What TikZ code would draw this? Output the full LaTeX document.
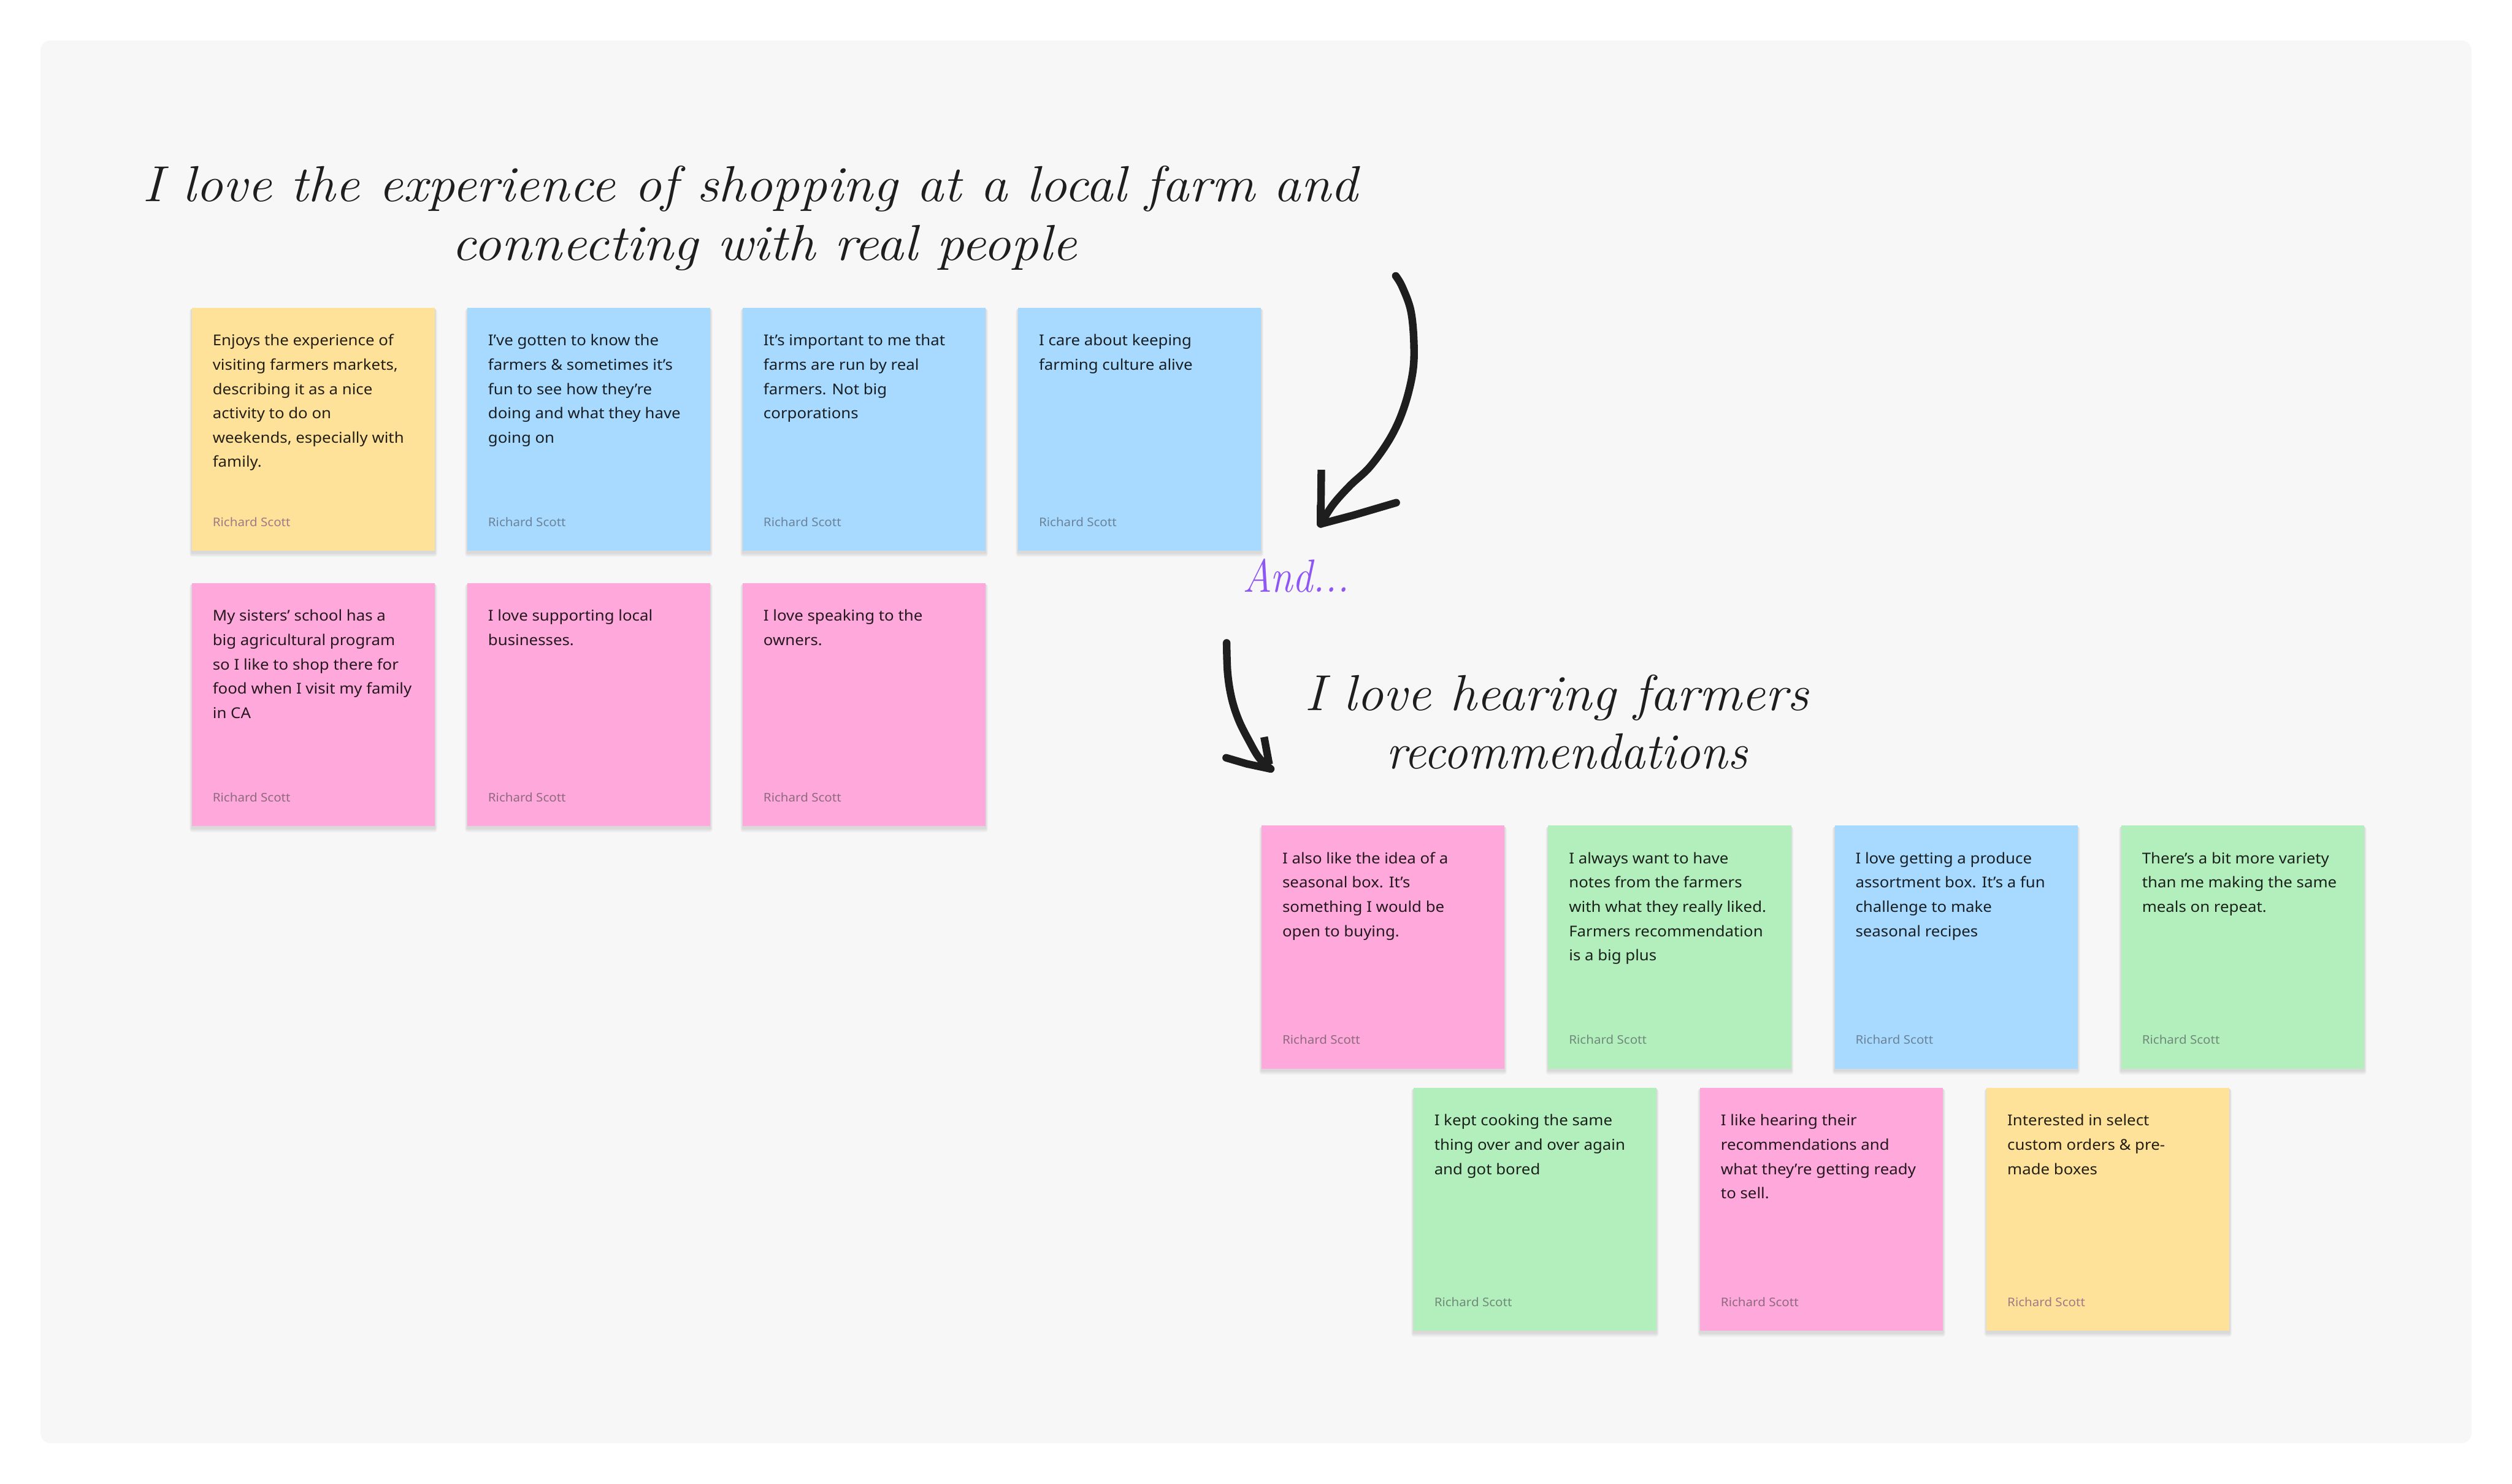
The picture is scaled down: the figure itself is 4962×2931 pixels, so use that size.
\documentclass[tikz,border=0pt]{standalone}
\usepackage{fontspec}
\usepackage{graphicx}
\setmainfont{Noto Sans}[FakeStretch=1.06]
\newfontfamily\handfont{Latin Modern Roman}
\usetikzlibrary{calc}
\definecolor{panel}{HTML}{F7F7F7}
\definecolor{stY}{HTML}{FFE299}
\definecolor{stB}{HTML}{A8DAFF}
\definecolor{stP}{HTML}{FFA8DB}
\definecolor{stG}{HTML}{B3EFBD}
\definecolor{auY}{HTML}{9D7B86}
\definecolor{auB}{HTML}{6A8398}
\definecolor{auP}{HTML}{8E6A7E}
\definecolor{auG}{HTML}{6F8A78}
\definecolor{ink}{HTML}{1E1E1E}
\definecolor{purp}{HTML}{8F56F6}
\newcommand\stxt[1]{\vtop{\fontsize{29.5}{48}\selectfont\halign{##\hfil\cr #1\crcr}}}
\newcommand\twolines[3]{\vtop{\baselineskip=#1\relax\halign{\hfil##\hfil\cr #2\cr #3\crcr}}}
\newcommand\hw[2]{\resizebox{#1}{\height}{#2}}
\newcommand\sticky[5]{%
  \foreach \k in {1,...,6}{%
    \fill[black,opacity=0.018,rounded corners=\k pt]
      (#2-\k*0.8, #3+2) rectangle (#2+480+\k*0.8, #3+484+\k*1.4);}
  \node[stickybox, fill=st#4, anchor=north west] (#1) at (#2,#3) {};
  \node[stickytext, anchor=base west] (#1-t) at ($(#1.north west)+(41,75)$) {\stxt{#5}};
  \node[stickyauthor, text=au#4, anchor=base west] (#1-a) at ($(#1.north west)+(41,432)$) {Richard Scott};
}
\begin{document}
\begin{tikzpicture}[x=1pt,y=-1pt,
  stickybox/.style={minimum width=480pt, minimum height=480pt, inner sep=0pt, outer sep=0pt, draw=none},
  stickytext/.style={inner sep=0pt, text=black, text opacity=0.86},
  stickyauthor/.style={inner sep=0pt, font=\fontsize{23.5}{26}\selectfont},
  handtitle/.style={inner sep=0pt, text=ink, font=\handfont\itshape\fontsize{100}{116}\selectfont},
  andtext/.style={inner sep=0pt, text=purp, font=\handfont\itshape\fontsize{92}{100}\selectfont},
  penline/.style={draw=ink, line width=15pt, line cap=round, line join=round}]
\useasboundingbox (0,0) rectangle (4962,2931);
\fill[white] (0,0) rectangle (4962,2931);
\fill[panel, rounded corners=20pt] (80,80) rectangle (4882,2851);

% titles
\node[handtitle, anchor=base] (title1) at (1482,398)
  {\twolines{116pt}{\hw{2400pt}{I love the experience of shopping at a local farm and}}{\hskip56pt\hw{1235pt}{connecting with real people}}};
\node[handtitle, anchor=base] (title2) at (3075,1403)
  {\twolines{116pt}{\hw{996pt}{I love hearing farmers}}{\hskip40pt\hw{713pt}{recommendations}}};
\node[andtext, anchor=base west] (and) at (2455,1170) {\hw{210pt}{And...}};

% left group
\sticky{s1}{379}{608}{Y}{Enjoys the experience of\cr visiting farmers markets,\cr describing it as a nice\cr activity to do on\cr weekends, especially with\cr family.}
\sticky{s2}{923}{608}{B}{I’ve gotten to know the\cr farmers \& sometimes it’s\cr fun to see how they’re\cr doing and what they have\cr going on}
\sticky{s3}{1467}{608}{B}{It’s important to me that\cr farms are run by real\cr farmers. Not big\cr corporations}
\sticky{s4}{2011}{608}{B}{I care about keeping\cr farming culture alive}
\sticky{s5}{379}{1152}{P}{My sisters’ school has a\cr big agricultural program\cr so I like to shop there for\cr food when I visit my family\cr in CA}
\sticky{s6}{923}{1152}{P}{I love supporting local\cr businesses.}
\sticky{s7}{1467}{1152}{P}{I love speaking to the\cr owners.}

% right group
\sticky{s8}{2492}{1631}{P}{I also like the idea of a\cr seasonal box. It’s\cr something I would be\cr open to buying.}
\sticky{s9}{3058}{1631}{G}{I always want to have\cr notes from the farmers\cr with what they really liked.\cr Farmers recommendation\cr is a big plus}
\sticky{s10}{3624}{1631}{B}{I love getting a produce\cr assortment box. It’s a fun\cr challenge to make\cr seasonal recipes}
\sticky{s11}{4190}{1631}{G}{There's a bit more variety\cr than me making the same\cr meals on repeat.}
\sticky{s12}{2792}{2149}{G}{I kept cooking the same\cr thing over and over again\cr and got bored}
\sticky{s13}{3358}{2149}{P}{I like hearing their\cr recommendations and\cr what they’re getting ready\cr to sell.}
\sticky{s14}{3924}{2149}{Y}{Interested in select\cr custom orders \& pre-\cr made boxes}

% arrow 1
\coordinate (a1s) at (2757,545);
\coordinate (a1e) at (2609,1035);
\coordinate (a1b1) at (2610,928);
\coordinate (a1b2) at (2758,993);
\draw[penline] plot[smooth, tension=0.6] coordinates {(a1s) (2770,567) (2787,615) (2793,682) (2790,739) (2773,806) (2747,864) (2707,921) (2667,959) (2633,997) (a1e)};
\draw[penline, line cap=butt] (a1b1) -- (2609,1020);
\draw[penline] (a1e) -- (2609,1000);
\draw[penline] (a1e) -- (2673,1018) -- (a1b2);

% arrow 2
\coordinate (a2s) at (2423,1270);
\coordinate (a2e) at (2510,1519);
\coordinate (a2b1) at (2497,1456);
\coordinate (a2b2) at (2422,1497);
\draw[penline] plot[smooth, tension=0.6] coordinates {(a2s) (2425,1330) (2433,1380) (2447,1423) (2467,1463) (2487,1497) (a2e)};
\draw[penline, line cap=butt] (a2b1) -- (2507,1510);
\draw[penline] (a2b2) -- (2463,1509) -- (a2e);
\end{tikzpicture}
\end{document}
